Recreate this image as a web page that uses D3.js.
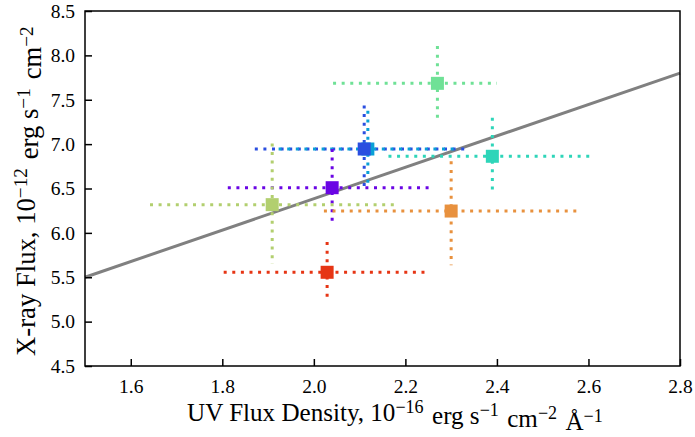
<!DOCTYPE html>
<html>
<head>
<meta charset="utf-8">
<script src="https://cdn.jsdelivr.net/npm/d3@7"></script>
</head>
<body style="margin:0; background:#fff">
<svg width="695" height="437"></svg>
<script>
var uvFlux   = [2.27, 2.11, 2.118, 2.39, 2.04, 1.909, 2.30, 2.029];
var xrayFlux = [7.685, 6.945, 6.945, 6.863, 6.509, 6.318, 6.246, 5.556];
var uvErrLo  = [0.228, 0.239, 0.195, 0.227, 0.228, 0.267, 0.278, 0.226];
var uvErrHi  = [0.13, 0.226, 0.195, 0.219, 0.22, 0.27, 0.277, 0.219];
var xrErrLo  = [0.44, 0.46, 0.43, 0.43, 0.43, 0.67, 0.61, 0.33];
var xrErrHi  = [0.42, 0.49, 0.43, 0.435, 0.436, 0.69, 0.56, 0.34];
var colors   = ["#6fe196", "#2a4ee0", "#0aa0d6", "#2ed5b9", "#6a05e4", "#b2cf6f", "#e8913e", "#e63514"];

// best fit line
var fitX = [1.5, 2.8];
var fitY = [5.50, 7.80];

var xTicks = [1.6, 1.8, 2.0, 2.2, 2.4, 2.6, 2.8];
var yTicks = [4.5, 5.0, 5.5, 6.0, 6.5, 7.0, 7.5, 8.0, 8.5];

var serif = "'Liberation Serif', monospace";
var box = {left: 85, right: 680, top: 11, bottom: 366};

var xScale = d3.scaleLinear().domain([1.5, 2.8]).range([box.left, box.right]);
var yScale = d3.scaleLinear().domain([4.5, 8.5]).range([box.bottom, box.top]);

var svg = d3.select("svg");

var points = uvFlux.map(function(d, i)
{
    return {x: d, y: xrayFlux[i], xlo: uvErrLo[i], xhi: uvErrHi[i],
            ylo: xrErrLo[i], yhi: xrErrHi[i], color: colors[i]};
});

var plot = svg.append("g");

// fit line
plot.append("line")
    .attr("x1", xScale(fitX[0])).attr("y1", yScale(fitY[0]))
    .attr("x2", xScale(fitX[1])).attr("y2", yScale(fitY[1]))
    .attr("stroke", "#808080")
    .attr("stroke-width", 3);

points.forEach(function(p)
{
    var g = plot.append("g");
    g.append("line")
        .attr("x1", xScale(p.x - p.xlo)).attr("x2", xScale(p.x + p.xhi))
        .attr("y1", yScale(p.y)).attr("y2", yScale(p.y))
        .attr("stroke", p.color)
        .attr("stroke-width", 3)
        .attr("stroke-dasharray", "3,5.6");
    g.append("line")
        .attr("x1", xScale(p.x)).attr("x2", xScale(p.x))
        .attr("y1", yScale(p.y + p.yhi)).attr("y2", yScale(p.y - p.ylo))
        .attr("stroke", p.color)
        .attr("stroke-width", 3)
        .attr("stroke-dasharray", "3,5.6");
});

// markers drawn reversed so that the blue one sits above the cyan one
plot.selectAll("rect.mark")
    .data(points.slice().reverse())
    .enter()
    .append("rect")
    .attr("class", "mark")
    .attr("x", function(p){ return xScale(p.x) - 6.5; })
    .attr("y", function(p){ return yScale(p.y) - 6.5; })
    .attr("width", 13)
    .attr("height", 13)
    .attr("fill", function(p){ return p.color; });

// frame
svg.append("rect")
    .attr("x", box.left).attr("y", box.top)
    .attr("width", box.right - box.left).attr("height", box.bottom - box.top)
    .attr("fill", "none")
    .attr("stroke", "#000")
    .attr("stroke-width", 1.5);

// axes with inward ticks
var xAxis = d3.axisBottom(xScale).tickValues(xTicks).tickSize(-7).tickPadding(13)
    .tickFormat(d3.format(".1f"));
var yAxis = d3.axisLeft(yScale).tickValues(yTicks).tickSize(-7).tickPadding(10)
    .tickFormat(d3.format(".1f"));

var gx = svg.append("g").attr("transform", "translate(0," + box.bottom + ")").call(xAxis);
var gy = svg.append("g").attr("transform", "translate(" + box.left + ",0)").call(yAxis);

[gx, gy].forEach(function(g)
{
    g.attr("font-family", null).attr("font-size", null);
    g.select(".domain").remove();
    g.selectAll(".tick line").attr("stroke", "#000").attr("stroke-width", 1.5);
    g.selectAll(".tick text")
        .style("font-family", serif)
        .style("font-size", "19.5px")
        .attr("fill", "#000");
});

// axis titles with superscripts
function addSup(t, base, sup)
{
    t.append("tspan").text(base);
    t.append("tspan").text(sup).attr("dy", "-0.42em").style("font-size", "0.72em");
    t.append("tspan").text("\u200a").attr("dy", "0.42em");
}

// size a title so that it spans the same length as in the figure
function fitTitle(t, target)
{
    var w = t.node().getBBox().width;
    t.style("font-size", (22 * target / w).toFixed(2) + "px");
}

var xt = svg.append("text")
    .attr("x", 396).attr("y", 421)
    .attr("text-anchor", "middle")
    .style("font-family", serif)
    .style("font-size", "22px");
addSup(xt, "UV Flux Density, 10", "\u221216");
addSup(xt, " erg s", "\u22121");
addSup(xt, " cm", "\u22122");
addSup(xt, " \u00c5", "\u22121");
fitTitle(xt, 418);

var yt = svg.append("text")
    .attr("transform", "translate(35,190) rotate(-90)")
    .attr("text-anchor", "middle")
    .style("font-family", serif)
    .style("font-size", "22px");
addSup(yt, "X-ray Flux, 10", "\u221212");
addSup(yt, " erg s", "\u22121");
addSup(yt, " cm", "\u22122");
fitTitle(yt, 332);
</script>
</body>
</html>
